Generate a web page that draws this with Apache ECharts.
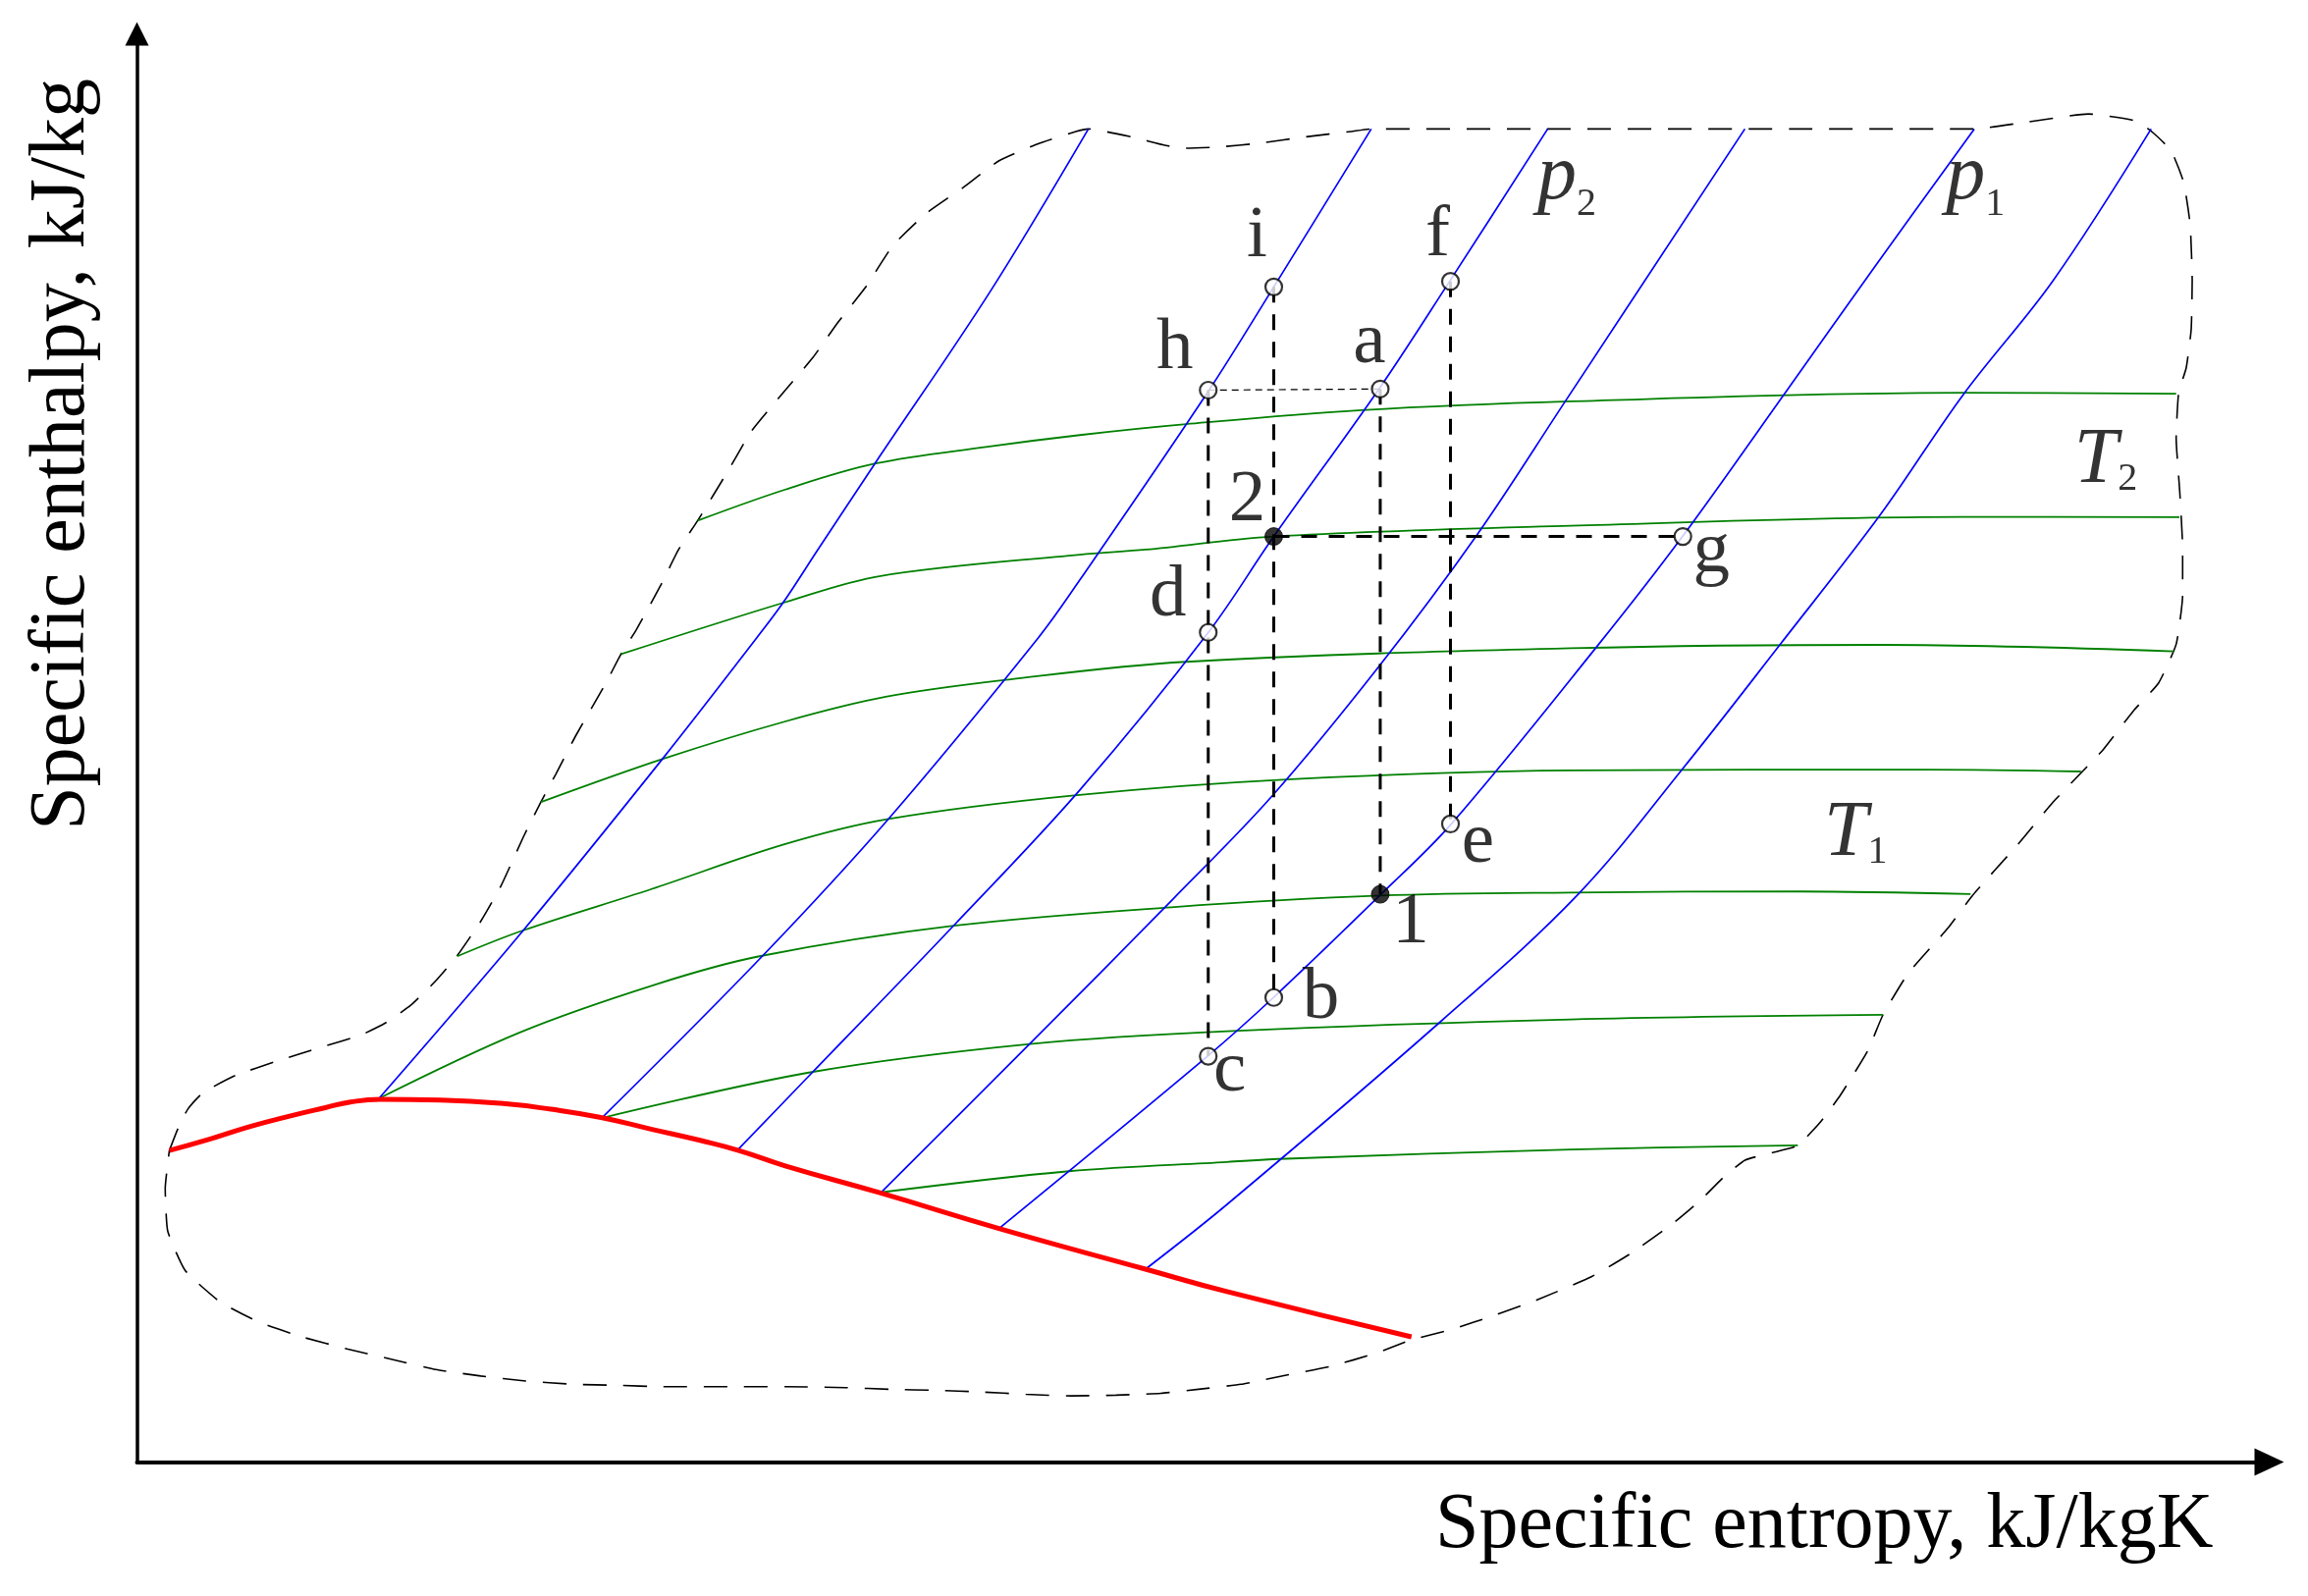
<!DOCTYPE html>
<html>
<head>
<meta charset="utf-8">
<script src="https://cdn.jsdelivr.net/npm/echarts@6/dist/echarts.min.js"></script>
<style>
html,body{margin:0;padding:0;background:#ffffff;}
#chart{width:2351px;height:1626px;}
</style>
</head>
<body>
<div id="chart"></div>
<script>
// ---------- DATA (schematic h-s diagram, arbitrary units: s = specific entropy, h = specific enthalpy) ----------
const saturationCurve = [[22,211.6],[49.8,219.4],[77,227.9],[104.3,235.1],[128,240.7],[145,244.5],[165.5,246.3],[206.3,245.8],[247.1,243.6],[281.1,239.6],[315.1,234],[349.1,226.1],[383.1,218.3],[408.6,211.6],[440.3,201.1],[505,182.7],[585.4,158.6],[684.9,131],[740.3,115.7],[865.5,85]];

// isobars (blue); index 2 is p2, index 4 is p1
const isobar1 = [[164.4,247],[262,360.7],[357.7,478.6],[420.8,559.7],[439,584],[462.4,619.7],[501.5,678.7],[579.7,795.4],[646.1,905.4]];
const isobar2 = [[315.6,233.6],[424.6,343.5],[510.7,437.2],[612,559.7],[640.3,599.1],[727.6,727.3],[772,798.1],[838.2,905.4]];
const isobarP2 = [[407.4,211.4],[459,265],[554.8,364.5],[640.3,456.4],[727.6,563.5],[772,628.6],[844.3,730],[891.4,801.9],[958,905.4]];
const isobar4 = [[505,182.7],[604.5,282.2],[703.5,382.3],[770.4,451.8],[843,539.8],[910,629.7],[969.4,719.6],[1091.9,905.4]];
const isobarP1 = [[585.4,158.6],[727,275.6],[771.8,315.5],[844.4,385.2],[892.6,433.4],[992.4,555.1],[1049.8,629],[1118.7,725.4],[1179.9,811.5],[1247.7,905.4]];
const isobar6 = [[684.9,131],[740.3,175],[885.7,299.5],[978.7,385.6],[1049.4,470.5],[1116.8,556.5],[1183.7,643.1],[1240.4,725.2],[1301.3,802.5],[1367.8,905.4]];
const isobars = [isobar1, isobar2, isobarP2, isobar4, isobarP1, isobar6];

// isotherms (green), top to bottom; index 1 is T2 level, index 4 is T1 level
const isotherm1 = [[380.8,639.4],[440.3,660.5],[501.5,678.2],[576.4,689.4],[640.3,697.5],[712.4,704.9],[831.5,714.4],[973.7,720.4],[1240.4,726.2],[1384.8,725.6]];
const isothermT2 = [[328.8,548.7],[440.3,584],[505,601.8],[640.3,616.3],[685,619.7],[772,628.6],[973.7,635.9],[1240.4,641.9],[1387,641.8]];
const isotherm3 = [[274.4,448.2],[357.7,477.7],[440.3,503],[508.4,519.7],[593.4,531.6],[712.4,543.5],[973.7,552.7],[1185.6,555],[1383.2,550.6]];
const isotherm4 = [[217.5,343.5],[262,361],[349,389],[440.3,419.7],[510.3,436.7],[636.5,452.7],[783.9,463.7],[973.7,469.7],[1216.3,470.3],[1320.2,469]];
const isothermT1 = [[164.4,247],[260,291.8],[352,324.3],[422.7,343.5],[554.6,364.2],[702.3,376.8],[844.4,384.7],[973.7,386.8],[1129.4,387.5],[1245.2,385.7]];
const isotherm6 = [[315.6,233.6],[459.1,265],[608.3,284.1],[740.3,292.6],[973.7,300.6],[1185.6,303.7]];
const isotherm7 = [[504,183],[632.8,197.5],[740.3,203.8],[780.5,206],[973.7,212.3],[1127.9,215.1]];
const isotherms = [isotherm1, isothermT2, isotherm3, isotherm4, isothermT1, isotherm6, isotherm7];

// region boundary (dashed)
const envelope = [[22,211.6],[27.7,226.1],[34.5,239.6],[44.7,250.7],[66.8,262.5],[94.1,272],[124.7,281.6],[151.9,289.9],[168.9,298.3],[185.9,310.2],[202.9,326.8],[217.2,343.5],[233.5,367.3],[247.1,391.1],[262.4,424.5],[274.3,448.3],[284.5,467.3],[298.1,493.5],[318.5,529.2],[328.7,548.7],[338.9,564.9],[355.9,595.9],[367.8,619.7],[380.8,639.4],[401.9,674],[417.2,700.1],[440.3,728],[459,750.1],[476,774],[494.7,797.8],[513.4,826.3],[535.6,847.8],[561,865.6],[584.9,883.5],[612,895.4],[637.6,903.7],[646.1,905.4],[675,900.1],[698.8,894.2],[712.4,892.3],[732.8,893],[763.4,895.9],[794,900.1],[824.6,903.7],[838.2,905.4],[1247.9,905.4],[1280.9,909.7],[1325.2,915.6],[1357.5,910.9],[1369.5,902.5],[1381.4,890.6],[1389.9,869.2],[1394.3,840.6],[1395.7,802.5],[1395,769.2],[1391.6,743],[1386.5,726.3],[1384.8,695.4],[1387.2,659.7],[1389.2,621],[1389.2,588.7],[1384.8,555.4],[1372.9,529.2],[1355.8,510.2],[1335.4,484],[1321.1,469],[1301.3,448.3],[1277.5,419.7],[1246.8,385.2],[1229.8,362.6],[1202.6,331.6],[1185.6,303.5],[1175.3,279.2],[1157,249.5],[1143,230.6],[1127.6,214.9],[1110,210],[1092,205],[1077,193],[1062,178],[1043,162],[1015,142],[988,126],[950.5,110],[923,100],[892.6,90],[865.5,83],[841.6,74],[811,65.1],[780.5,59],[749.8,52.8],[720.9,49.4],[695.4,46.7],[664.8,45.4],[634.2,44.9],[603.6,46],[573,47.6],[542.3,48.7],[511.7,49.4],[481.1,50.5],[440.3,51.2],[403.5,51.2],[356,51.2],[327,52.1],[296.4,52.8],[264,55],[233.5,58.4],[202.9,62.8],[174,69.5],[143.3,76.7],[112.7,84.8],[83.8,94.6],[56.6,108.7],[32.8,130],[20.9,156.8],[19.2,185.9],[22,211.6]];

// state points
const stateNames = ['h','i','a','f','2','g','d','e','1','b','c'];
const stateS = [727.5,772,844.3,892,772,1049.8,727.5,892,844.3,772,727.5];
const stateH = [728,798.1,728.8,801.9,628.6,628.6,563.5,433.4,385.6,315.5,275.6];
const mainStates = ['1','2'];

// construction lines between states
const verticalGuides = [['h','c'],['i','b'],['a','1'],['f','e']];
const horizontalGuides = [['2','g']];
const dottedGuides = [['h','a']];

// curve labels
const curveLabelText = ['p2','p1','T2','T1'];
const curveLabelS = [971,1248.5,1337,1167.2];
const curveLabelH = [872.6,872.6,680,426.5];

// axis titles
const xTitle = 'Specific entropy, kJ/kgK';
const yTitle = 'Specific enthalpy, kJ/kg';

// ---------- STYLE ----------
const FONT = 'Liberation Serif';
const labelOffsets = {h:[-34,-42], i:[-17,-51], a:[-11,-47], f:[-13,-46], '2':[-27,-36], d:[-41,-37], g:[29,16], e:[28,19], '1':[31,29], b:[48,1], c:[22,15]};

const pt = n => { const k = stateNames.indexOf(n); return [stateS[k], stateH[k]]; };

const series = [];
series.push({
  type:'line', name:'boundary', data: envelope, symbol:'none', smooth:0.15, silent:true,
  lineStyle:{color:'#000', width:1.6, type:[24,17]}, z:1
});
isotherms.forEach((d,k)=>series.push({
  type:'line', name:'isotherm '+(k+1), data:d, symbol:'none', smooth:0.35, silent:true,
  lineStyle:{color:'#008000', width:1.8}, z:2
}));
isobars.forEach((d,k)=>series.push({
  type:'line', name:'isobar '+(k+1), data:d, symbol:'none', smooth:0.35, silent:true,
  lineStyle:{color:'#0000ff', width:1.7}, z:3
}));
series.push({
  type:'line', name:'saturation', data: saturationCurve, symbol:'none', smooth:0.5, silent:true,
  lineStyle:{color:'#ff0000', width:5}, z:4
});
verticalGuides.concat(horizontalGuides).forEach(g=>series.push({
  type:'line', data:[pt(g[0]), pt(g[1])], symbol:'none', silent:true,
  lineStyle:{color:'#000', width:3, type:[16,12]}, z:5
}));
dottedGuides.forEach(g=>series.push({
  type:'line', data:[pt(g[0]), pt(g[1])], symbol:'none', silent:true,
  lineStyle:{color:'#000', width:1.2, type:[7,5]}, z:5
}));
const pointLabel = {show:true, position:'inside', formatter:'{b}', color:'#000', fontFamily:FONT, fontSize:75, textBorderWidth:0};
series.push({
  type:'scatter', name:'states',
  data: stateNames.filter(n=>mainStates.indexOf(n)<0).map(n=>({name:n, value:pt(n), label:{offset:labelOffsets[n]}})),
  symbol:'circle', symbolSize:17, itemStyle:{color:'#fff', borderColor:'#000', borderWidth:2.2},
  label: pointLabel, z:6
});
series.push({
  type:'scatter', name:'main states',
  data: mainStates.map(n=>({name:n, value:pt(n), label:{offset:labelOffsets[n]}})),
  symbol:'circle', symbolSize:18, itemStyle:{color:'#000', borderColor:'#000', borderWidth:1},
  label: pointLabel, z:6
});
series.push({
  type:'scatter', name:'curve labels',
  data: curveLabelText.map((t,k)=>({name:t, value:[curveLabelS[k], curveLabelH[k]],
    label:{formatter:'{i|'+t[0]+'}{'+(t[0]==='p'?'sp':'st')+'|'+t.slice(1)+'}'}})),
  symbol:'circle', symbolSize:1, itemStyle:{color:'rgba(0,0,0,0)'},
  label:{show:true, position:'inside', color:'#000', textBorderWidth:0,
    rich:{
      i:{fontFamily:FONT, fontStyle:'italic', fontSize:80, lineHeight:80, verticalAlign:'top', color:'#000'},
      sp:{fontFamily:FONT, fontSize:40, lineHeight:40, verticalAlign:'top', padding:[48,0,0,0], color:'#000'},
      st:{fontFamily:FONT, fontSize:40, lineHeight:40, verticalAlign:'top', padding:[39,0,0,0], color:'#000'}
    }},
  z:7
});

const chart = echarts.init(document.getElementById('chart'), null, {renderer:'canvas'});
chart.setOption({
  animation:false,
  backgroundColor:'#ffffff',
  tooltip:{show:false},
  grid:{left:139.5, right:39.5, top:34.5, bottom:136.5, containLabel:false, outerBoundsMode:'none'},
  xAxis:{
    type:'value', min:0, max:1448,
    axisLine:{show:true, onZero:false, symbol:['none','triangle'], symbolSize:[28,30], lineStyle:{color:'#000', width:4}},
    axisTick:{show:false}, axisLabel:{show:false}, splitLine:{show:false},
    name:xTitle, nameLocation:'end', nameGap:-57,
    nameTextStyle:{fontFamily:FONT, fontSize:80, color:'#000', align:'right', verticalAlign:'top', padding:[25,0,0,0]}
  },
  yAxis:{
    type:'value', min:0, max:970,
    axisLine:{show:true, onZero:false, symbol:['none','triangle'], symbolSize:[24,24], lineStyle:{color:'#000', width:3.5}},
    axisTick:{show:false}, axisLabel:{show:false}, splitLine:{show:false},
    name:yTitle, nameLocation:'end', nameGap:-45.5, nameRotate:90,
    nameTextStyle:{fontFamily:FONT, fontSize:80, color:'#000', align:'right', verticalAlign:'bottom', padding:[0,0,35.5,0]}
  },
  series: series
});
</script>
</body>
</html>
